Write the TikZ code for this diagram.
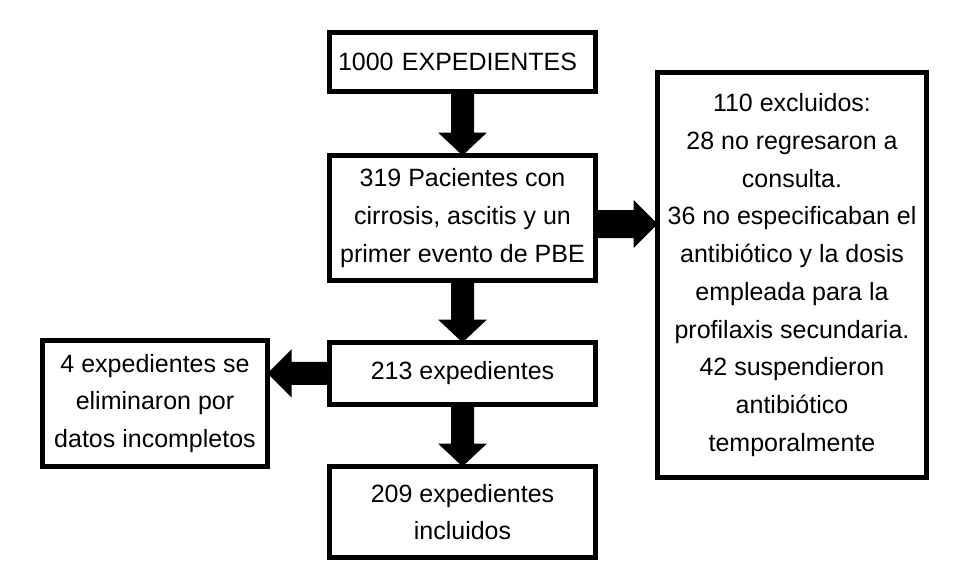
\documentclass[tikz,border=0pt]{standalone}
\usepackage{fontspec}
\setmainfont{Liberation Sans}
\usetikzlibrary{calc}
\newcommand\fatarrow[5]{% from, to, shaft half width, head half width, head length
  \coordinate (fa-c) at ($(#2)!#5!(#1)$);
  \fill ($(#1)!#3!90:(#2)$) -- ($(fa-c)!#3!-90:(#1)$) -- ($(fa-c)!#4!-90:(#1)$) -- (#2)
    -- ($(fa-c)!#4!90:(#1)$) -- ($(fa-c)!#3!90:(#1)$) -- ($(#1)!#3!-90:(#2)$) -- cycle;}
\begin{document}
\begin{tikzpicture}[x=1pt,y=-1pt,
  box/.style={draw, line width=5pt, rectangle, inner sep=0pt, outer sep=0pt, align=center,
    font=\fontsize{25pt}{37.7pt}\selectfont}]
\fill[white] (0,0) rectangle (962,587);
\useasboundingbox (0,0) rectangle (962,587);

\node[box, minimum width=266pt, minimum height=58.5pt, text width=249pt, align=left] (b1) at (462.5,61.75) {1000 EXPEDIENTES};
\node[box, minimum width=266pt, minimum height=125pt] (b2) at (462.5,218)
  {319 Pacientes con\\cirrosis, ascitis y un\\primer evento de PBE};
\node[box, minimum width=269pt, minimum height=405pt] (b3) at (792,275)
  {110 excluidos:\\28 no regresaron a\\consulta.\\36 no especificaban el\\antibiótico y la dosis\\empleada para la\\profilaxis secundaria.\\42 suspendieron\\antibiótico\\temporalmente};
\node[box, minimum width=266pt, minimum height=61.5pt] (b4) at (462.5,373.25) {213 expedientes};
\node[box, minimum width=225pt, minimum height=126pt] (b5) at (155,403.5)
  {4 expedientes se\\eliminaron por\\datos incompletos};
\node[box, minimum width=266pt, minimum height=91pt] (b6) at (462.5,512)
  {209 expedientes\\incluidos};

\fatarrow{b1.south}{b2.north}{11.5pt}{24.5pt}{23pt}
\fatarrow{b2.south}{b4.north}{11.5pt}{24.5pt}{23pt}
\fatarrow{b4.south}{b6.north}{11.5pt}{24.5pt}{23pt}
\coordinate (r1) at ([yshift=-6pt]b2.east);
\coordinate (r2) at (r1 -| b3.west);
\fatarrow{r1}{r2}{14pt}{24pt}{24pt}
\coordinate (l1) at (b4.west);
\coordinate (l2) at (l1 -| b5.east);
\fatarrow{l1}{l2}{11.5pt}{24pt}{24pt}
\end{tikzpicture}
\end{document}
